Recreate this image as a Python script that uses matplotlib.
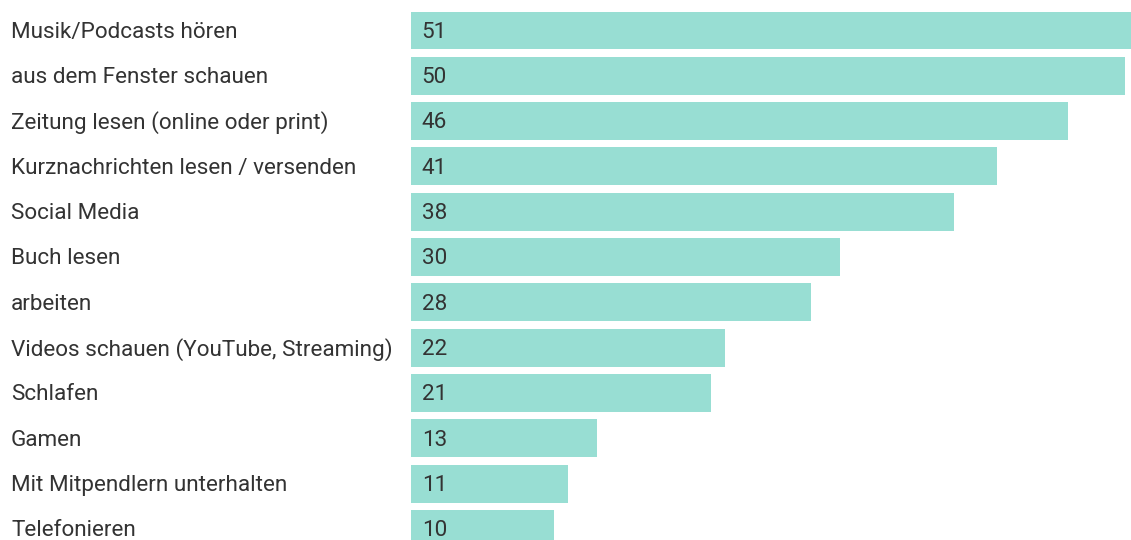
import matplotlib
matplotlib.use("Agg")
import matplotlib.pyplot as plt

categories = [
    "Musik/Podcasts hören",
    "aus dem Fenster schauen",
    "Zeitung lesen (online oder print)",
    "Kurznachrichten lesen / versenden",
    "Social Media",
    "Buch lesen",
    "arbeiten",
    "Videos schauen (YouTube, Streaming)",
    "Schlafen",
    "Gamen",
    "Mit Mitpendlern unterhalten",
    "Telefonieren",
]
values = [51, 50, 46, 41, 38, 30, 28, 22, 21, 13, 11, 10]

bar_color = "#98ded3"
text_color = "#333333"

plt.rcParams['font.family'] = ['Roboto', 'DejaVu Sans']

W, H = 1131, 540
fig = plt.figure(figsize=(W / 100, H / 100), dpi=100)
ax = fig.add_axes([411 / W, 0, 1 - 411 / W, 1])

ypos = list(range(len(categories)))
ax.barh(ypos, values, height=0.834, color=bar_color, edgecolor='none')
ax.set_xlim(0, 50.4)
ax.set_ylim(11.244, -0.671)
ax.axis('off')

dy = 0.04
for y, v, c in zip(ypos, values, categories):
    ax.text(0.75, y + dy, str(v), va='center', ha='left', fontsize=16.2, color=text_color)
    ax.annotate(c, xy=(11 / W, y + dy), xycoords=('figure fraction', 'data'),
                va='center', ha='left', fontsize=16.2, color=text_color)

fig.savefig("out.png", dpi=100)
